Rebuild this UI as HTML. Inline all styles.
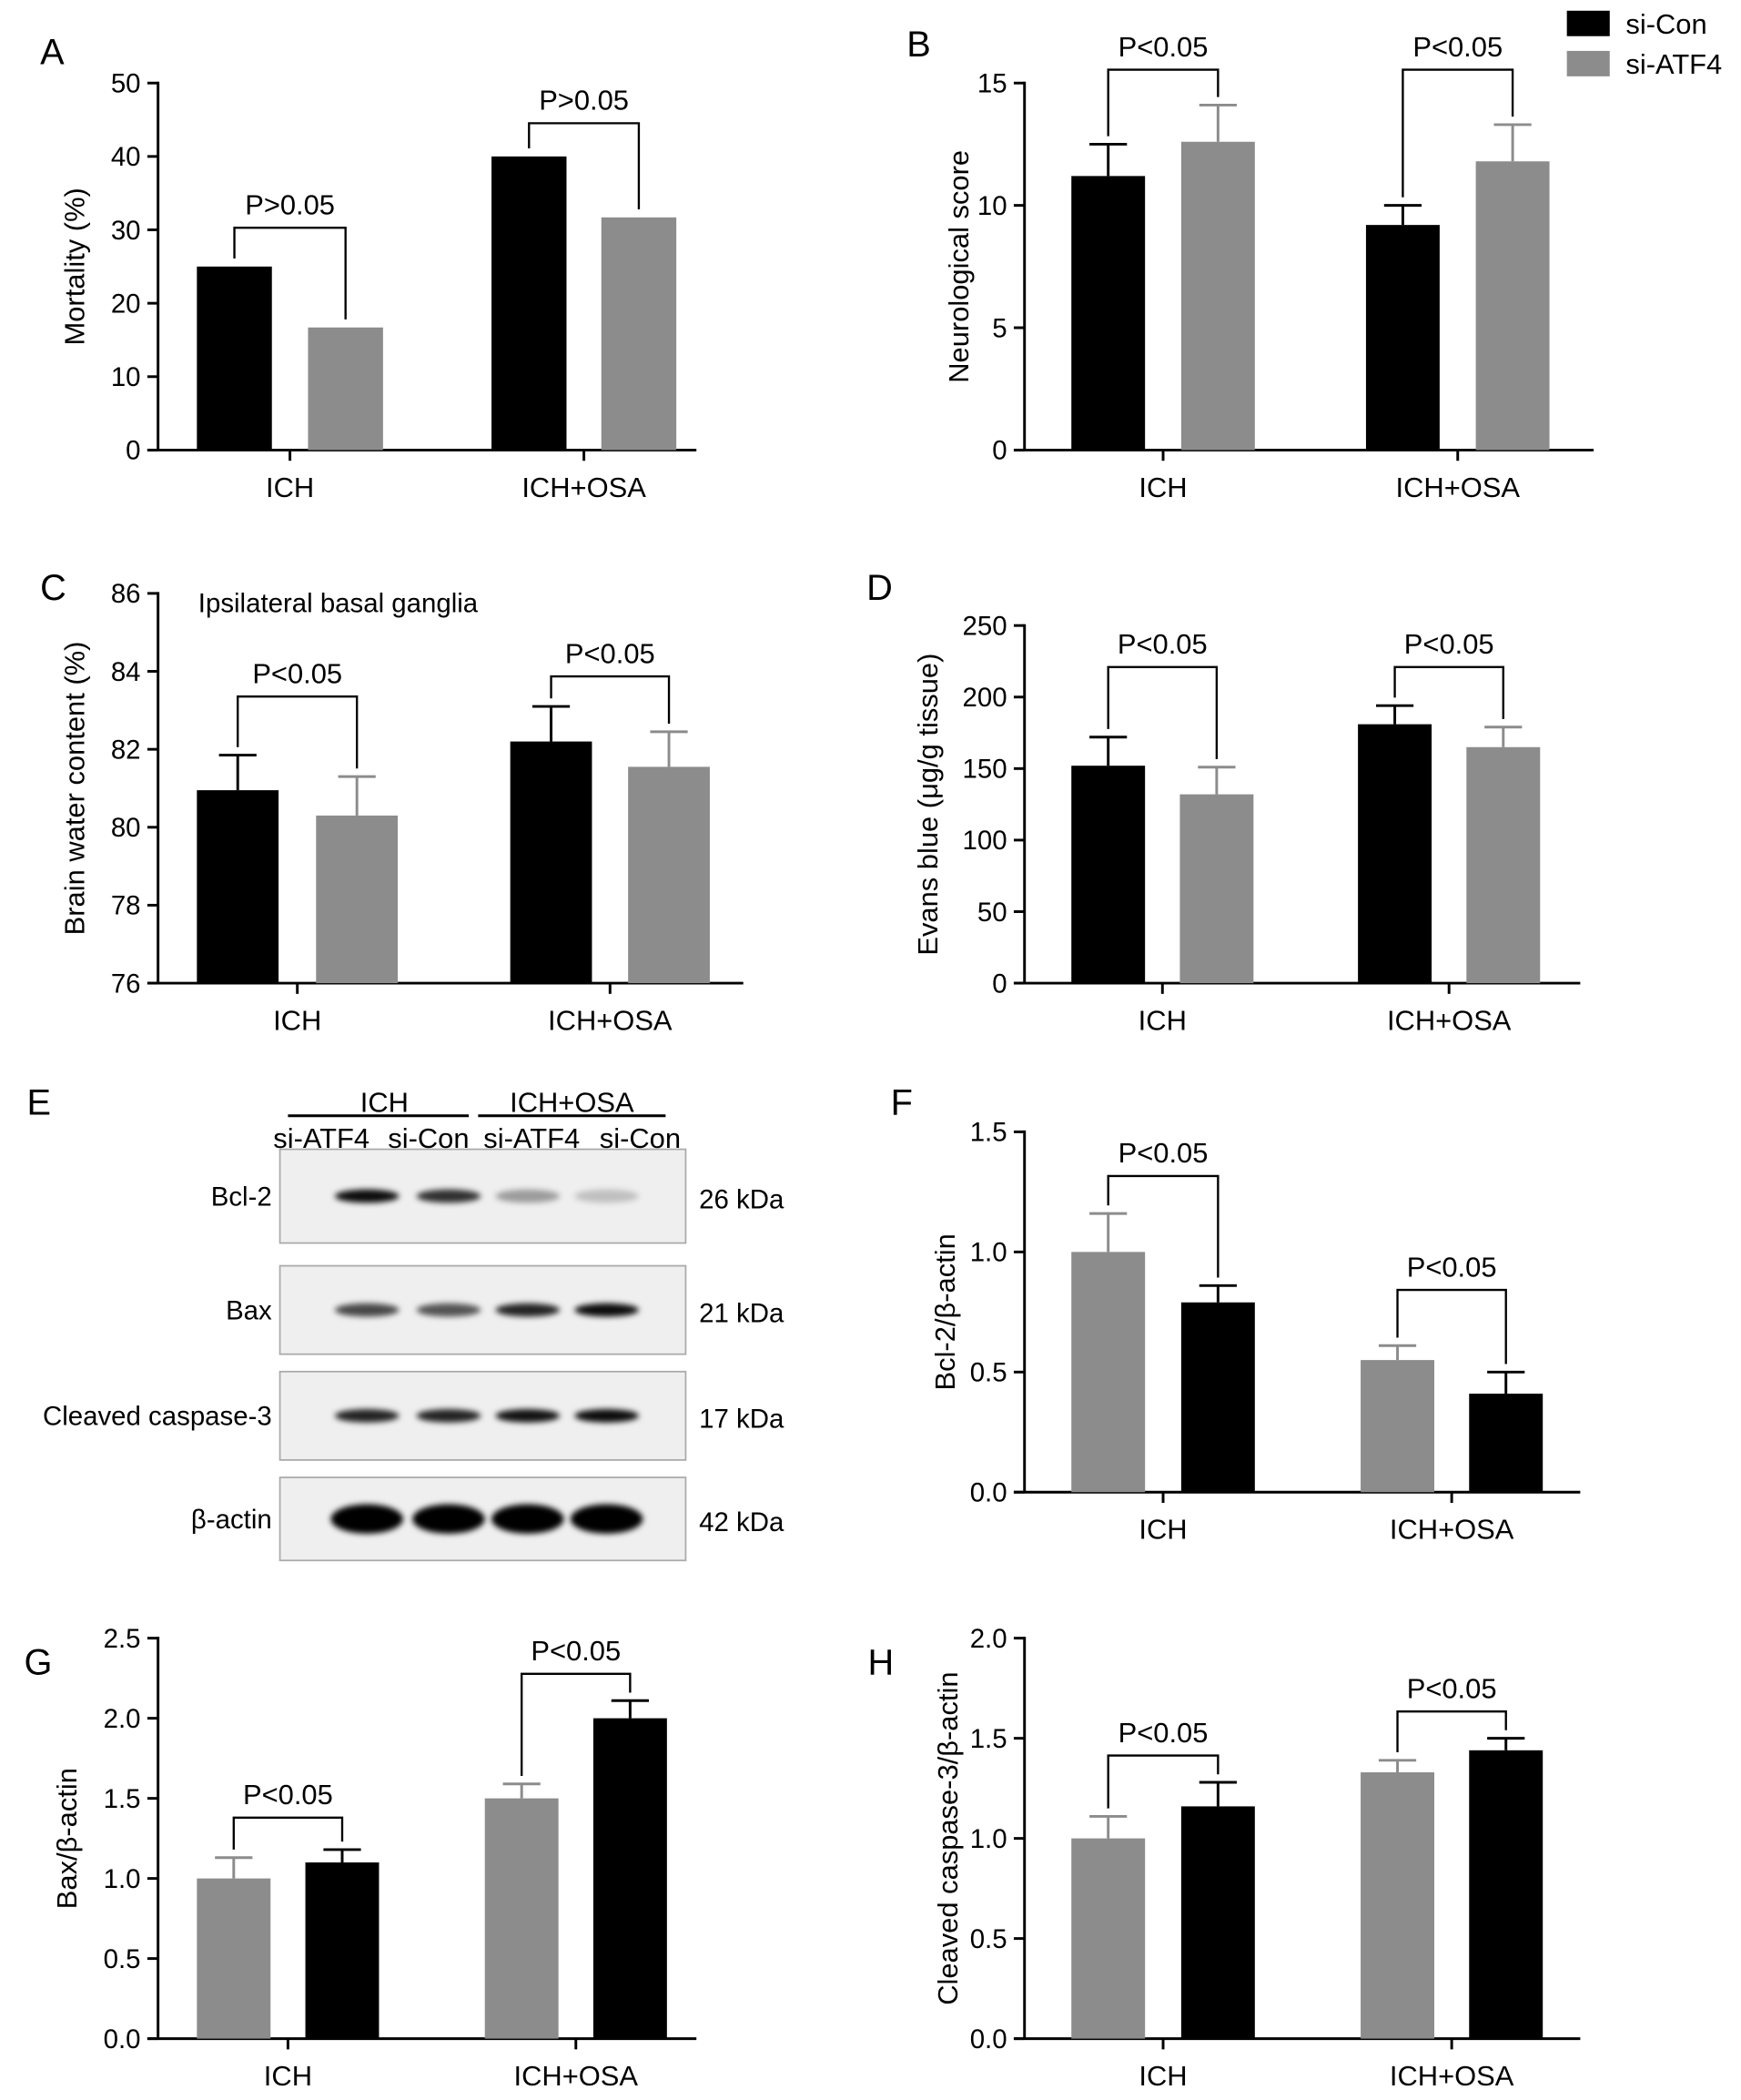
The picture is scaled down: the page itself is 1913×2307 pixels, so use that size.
<!DOCTYPE html>
<html><head><meta charset="utf-8"><style>
html,body{margin:0;padding:0;background:#fff;}
svg{display:block;font-family:"Liberation Sans",sans-serif;}
</style></head><body>
<svg id="fig" width="1913" height="2307" viewBox="0 0 1300 1567.8">
<defs>
<filter id="blur" x="-20%" y="-100%" width="140%" height="300%"><feGaussianBlur stdDeviation="2.2"/></filter>
</defs>
<g id="root"></g>
</svg>
<script>
// ===== Data =====
const groups = ["ICH","ICH+OSA"];
// Panel A mortality (si-Con, si-ATF4)
const aVals = [25, 16.7, 40, 31.7];
const aErr = [0, 0, 0, 0];
const aTicks = [0,10,20,30,40,50];
const aP = ["P>0.05","P>0.05"];
// Panel B neurological score (si-Con, si-ATF4)
const bVals = [11.2, 12.6, 9.2, 11.8];
const bErr = [1.3, 1.5, 0.8, 1.5];
const bTicks = [0,5,10,15];
const bP = ["P<0.05","P<0.05"];
// Panel C brain water content
const cVals = [80.95, 80.3, 82.2, 81.55];
const cErr = [0.9, 1.0, 0.9, 0.9];
const cTicks = [76,78,80,82,84,86];
const cP = ["P<0.05","P<0.05"];
// Panel D Evans blue
const dVals = [152, 132, 181, 165];
const dErr = [20, 19, 13, 14];
const dTicks = [0,50,100,150,200,250];
const dP = ["P<0.05","P<0.05"];
// Panel F Bcl-2 (si-ATF4 gray, si-Con black)
const fVals = [1.0, 0.79, 0.55, 0.41];
const fErr = [0.16, 0.07, 0.06, 0.09];
const fTicks = [0.0,0.5,1.0,1.5];
const fP = ["P<0.05","P<0.05"];
// Panel G Bax
const gVals = [1.0, 1.1, 1.5, 2.0];
const gErr = [0.13, 0.08, 0.09, 0.11];
const gTicks = [0.0,0.5,1.0,1.5,2.0,2.5];
const gP = ["P<0.05","P<0.05"];
// Panel H cleaved caspase-3
const hVals = [1.0, 1.16, 1.33, 1.44];
const hErr = [0.11, 0.12, 0.06, 0.06];
const hTicks = [0.0,0.5,1.0,1.5,2.0];
const hP = ["P<0.05","P<0.05"];

const NS="http://www.w3.org/2000/svg";
const root=document.getElementById('root');
function el(tag,attrs,parent,text){const e=document.createElementNS(NS,tag);for(const k in attrs)e.setAttribute(k,attrs[k]);if(text!==undefined)e.textContent=text;(parent||root).appendChild(e);return e;}
const BLACK="#000", GRAY="#8c8c8c";
function panel(o){
  const g=el('g',{});
  
  
  const min=o.ticks[0], max=o.ticks[o.ticks.length-1];
  const y=v=>o.y0+(v-min)/(max-min)*(o.y1-o.y0);
  const ax=el('line',{x1:o.ax,y1:o.y1-1,x2:o.ax,y2:o.y0,stroke:'#000','stroke-width':2},g);
  
  const xa=el('line',{x1:o.ax-8,y1:o.y0,x2:o.axEnd,y2:o.y0,stroke:'#000','stroke-width':2},g);
  
  o.ticks.forEach(t=>{
    el('line',{x1:o.ax-8,y1:y(t),x2:o.ax,y2:y(t),stroke:'#000','stroke-width':2},g);
    const tl=el('text',{x:o.ax-13,y:y(t)+7,'text-anchor':'end','font-size':20},g,o.fmt?t.toFixed(1):String(t));
    
  });
  groups.forEach((gn,i)=>{
    const cx=(o.bx[i*2]+o.bx[i*2+1]+o.bw)/2;
    el('line',{x1:cx,y1:o.y0,x2:cx,y2:o.y0+8,stroke:'#000','stroke-width':2},g);
    const lb=el('text',{x:cx,y:o.y0+35,'text-anchor':'middle','font-size':21},g,gn);
    
  });
  o.vals.forEach((v,i)=>{
    const x=o.bx[i], top=y(v);
    const b=el('rect',{x:x,y:top,width:o.bw,height:o.y0-top,fill:o.colors[i%2]},g);
    
    
    if(o.err[i]>0){
      const et=y(v+o.err[i]);
      el('line',{x1:x+o.bw/2,y1:top,x2:x+o.bw/2,y2:et,stroke:o.colors[i%2],'stroke-width':2},g);
      el('line',{x1:x+o.bw/2-14,y1:et,x2:x+o.bw/2+14,y2:et,stroke:o.colors[i%2],'stroke-width':2},g);
    }
  });
  [0,1].forEach(k=>{
    const i1=k*2,i2=k*2+1;
    const t1=y(o.vals[i1]+o.err[i1]), t2=y(o.vals[i2]+o.err[i2]);
    const by=Math.min(o.by[k], Math.min(t1,t2)-20);
    const x1=o.bx[i1]+o.bw/2, x2=o.bx[i2]+o.bw/2;
    const p=el('path',{d:`M${x1},${t1-6}V${by}H${x2}V${t2-6}`,fill:'none',stroke:'#000','stroke-width':1.6},g);
    
    const pt=el('text',{x:(x1+x2)/2,y:by-10,'text-anchor':'middle','font-size':21},g,o.p[k]);
    
  });
  const cy=(o.y0+o.y1)/2;
  const yt=el('text',{x:o.titleX,y:cy,'text-anchor':'middle','font-size':21,transform:`rotate(-90 ${o.titleX} ${cy})`},g,o.title);
  
  const L=el('text',{x:o.letter[0],y:o.letter[1],'font-size':27},g,o.L);
  
}
const CB=[BLACK,GRAY], GB=[GRAY,BLACK];
panel({name:'panel-a-mortality',L:'A',letter:[30,48],ax:118,axEnd:520,y0:336,y1:62,ticks:aTicks,vals:aVals,err:aErr,bx:[147,230,367,449],bw:56,colors:CB,p:aP,title:'Mortality (%)',titleX:63,by:[170,92]});
panel({name:'panel-b-neurological-score',L:'B',letter:[677,42],ax:765,axEnd:1190,y0:336,y1:62,ticks:bTicks,vals:bVals,err:bErr,bx:[800,882,1020,1102],bw:55,colors:CB,p:bP,title:'Neurological score',titleX:723,by:[52,52]});
panel({name:'panel-c-brain-water',L:'C',letter:[30,448],ax:118,axEnd:555,y0:734,y1:443,ticks:cTicks,vals:cVals,err:cErr,bx:[147,236,381,469],bw:61,colors:CB,p:cP,title:'Brain water content (%)',titleX:63,by:[520,505]});
panel({name:'panel-d-evans-blue',L:'D',letter:[647,448],ax:765,axEnd:1180,y0:734,y1:467,ticks:dTicks,vals:dVals,err:dErr,bx:[800,881,1014,1095],bw:55,colors:CB,p:dP,title:'Evans blue (μg/g tissue)',titleX:700,by:[498,498]});
panel({name:'panel-f-bcl2',L:'F',letter:[665,832],ax:765,axEnd:1180,y0:1114,y1:845,ticks:fTicks,vals:fVals,err:fErr,bx:[800,882,1016,1097],bw:55,colors:GB,p:fP,title:'Bcl-2/β-actin',titleX:713,fmt:true,by:[878,963]});
panel({name:'panel-g-bax',L:'G',letter:[18,1250],ax:118,axEnd:520,y0:1522,y1:1223,ticks:gTicks,vals:gVals,err:gErr,bx:[147,228,362,443],bw:55,colors:GB,p:gP,title:'Bax/β-actin',titleX:57,fmt:true,by:[1357,1272]});
panel({name:'panel-h-caspase3',L:'H',letter:[648,1250],ax:765,axEnd:1180,y0:1522,y1:1223,ticks:hTicks,vals:hVals,err:hErr,bx:[800,882,1016,1097],bw:55,colors:GB,p:hP,title:'Cleaved caspase-3/β-actin',titleX:715,fmt:true,by:[1315,1290]});
el('text',{x:148,y:457,'font-size':20},root,'Ipsilateral basal ganglia');

const lg=el('g',{});

el('rect',{x:1170,y:8,width:32,height:19,fill:BLACK},lg);
el('text',{x:1214,y:25,'font-size':21},lg,'si-Con');
el('rect',{x:1170,y:38,width:32,height:19,fill:GRAY},lg);
el('text',{x:1214,y:55,'font-size':21},lg,'si-ATF4');

const rows = ["Bcl-2","Bax","Cleaved caspase-3","β-actin"];
const kda = ["26 kDa","21 kDa","17 kDa","42 kDa"];
const bandIntensity = [[0,0.95,0.8,0.35,0.2],[0,0.7,0.65,0.85,0.95],[0,0.85,0.85,0.92,0.95],[0,1,1,1,1]];
const wb=el('g',{});

el('text',{x:20,y:832,'font-size':27},wb,'E');
el('text',{x:287,y:830,'text-anchor':'middle','font-size':21},wb,'ICH');
el('line',{x1:215,y1:833,x2:350,y2:833,stroke:'#000','stroke-width':2},wb);
el('text',{x:427,y:830,'text-anchor':'middle','font-size':21},wb,'ICH+OSA');
el('line',{x1:357,y1:833,x2:497,y2:833,stroke:'#000','stroke-width':2},wb);
[['si-ATF4',240],['si-Con',320],['si-ATF4',397],['si-Con',478]].forEach(([t,x])=>el('text',{x:x,y:857,'text-anchor':'middle','font-size':21},wb,t));
const boxY=[858,945,1024,1103], boxH=[70,66,66,62];
const lanes=[274,335,394,453];
rows.forEach((r,i)=>{
  el('rect',{x:209,y:boxY[i],width:303,height:boxH[i],fill:'#efefef',stroke:'#aaa','stroke-width':1.2},wb);
  el('text',{x:203,y:boxY[i]+boxH[i]/2+7,'text-anchor':'end','font-size':20},wb,r);
  el('text',{x:522,y:boxY[i]+boxH[i]/2+9,'font-size':20},wb,kda[i]);
  lanes.forEach((cx,j)=>{
    const a=bandIntensity[i][j+1];
    const h=i===3?22:10, w=i===3?54:48;
    const b=el('ellipse',{cx:cx,cy:boxY[i]+boxH[i]/2,rx:w/2,ry:h/2,fill:'#000','fill-opacity':a,filter:'url(#blur)'},wb);
    
  });
});
</script>
</body></html>
